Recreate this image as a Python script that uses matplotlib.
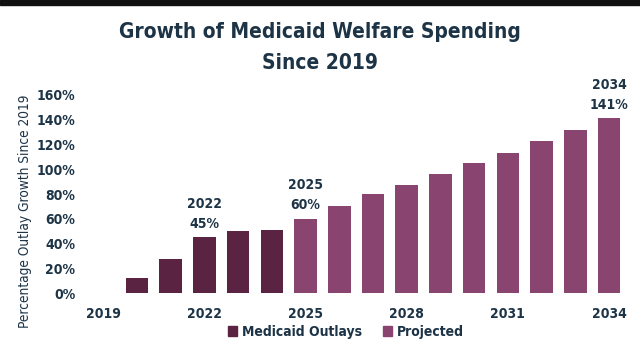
import matplotlib.pyplot as plt
from matplotlib.patches import Rectangle, Patch

years = list(range(2019, 2035))
growth = [0, 12, 27.5, 45, 50, 51, 60, 70, 80, 87.5, 96, 105, 113, 123, 132, 141]
last_actual = 2024
tick_years = [2019, 2022, 2025, 2028, 2031, 2034]
callouts = {2022: "45%", 2025: "60%", 2034: "141%"}

dark = "#5b2342"
proj = "#8a4470"
navy = "#1d3447"

plt.rcParams["font.family"] = ["DejaVu Sans"]
plt.rcParams["font.stretch"] = "condensed"
plt.rcParams["font.weight"] = "bold"

fig = plt.figure(figsize=(6.4, 3.39), dpi=100)
fig.patches.append(Rectangle((0, 0.985), 1, 0.015, transform=fig.transFigure,
                             color="#111111", zorder=0))
ax = fig.add_axes([0.135, 0.135, 0.843, 0.585])

colors = [dark if y <= last_actual else proj for y in years]
ax.bar(years, growth, width=0.67, color=colors)

for y, lab in callouts.items():
    v = growth[years.index(y)]
    ax.annotate(f"{y}\n{lab}", (y, v), xytext=(0, 5), textcoords="offset points",
                ha="center", va="bottom", fontsize=10, color=navy,
                fontweight="bold", linespacing=1.5)

ax.set_xlim(2018.5, 2034.5)
ax.set_ylim(0, 160)
ax.set_xticks(tick_years)
ax.set_xticklabels([str(t) for t in tick_years])
ax.set_yticks(range(0, 161, 20))
ax.set_yticklabels([f"{v}%" for v in range(0, 161, 20)])
ax.tick_params(length=0, labelsize=10, labelcolor=navy, pad=8)
ax.tick_params(axis="x", pad=10)
for s in ax.spines.values():
    s.set_visible(False)
ax.set_ylabel("Percentage Outlay Growth Since 2019", fontsize=9.8, color=navy,
              fontweight="normal")
ax.yaxis.set_label_coords(-0.1, 0.415)

fig.text(0.5, 0.905, "Growth of Medicaid Welfare Spending", ha="center",
         va="center", fontsize=15, color=navy, fontweight="bold")
fig.text(0.5, 0.815, "Since 2019", ha="center", va="center", fontsize=15,
         color=navy, fontweight="bold")

handles = [Patch(color=dark, label="Medicaid Outlays"), Patch(color=proj, label="Projected")]
fig.legend(handles=handles, loc="center", bbox_to_anchor=(0.54, 0.022), ncol=2,
           frameon=False, fontsize=10, handlelength=0.7, handleheight=0.7,
           handletextpad=0.3, columnspacing=1.5, labelcolor=navy)

fig.savefig("out.png", dpi=100)
